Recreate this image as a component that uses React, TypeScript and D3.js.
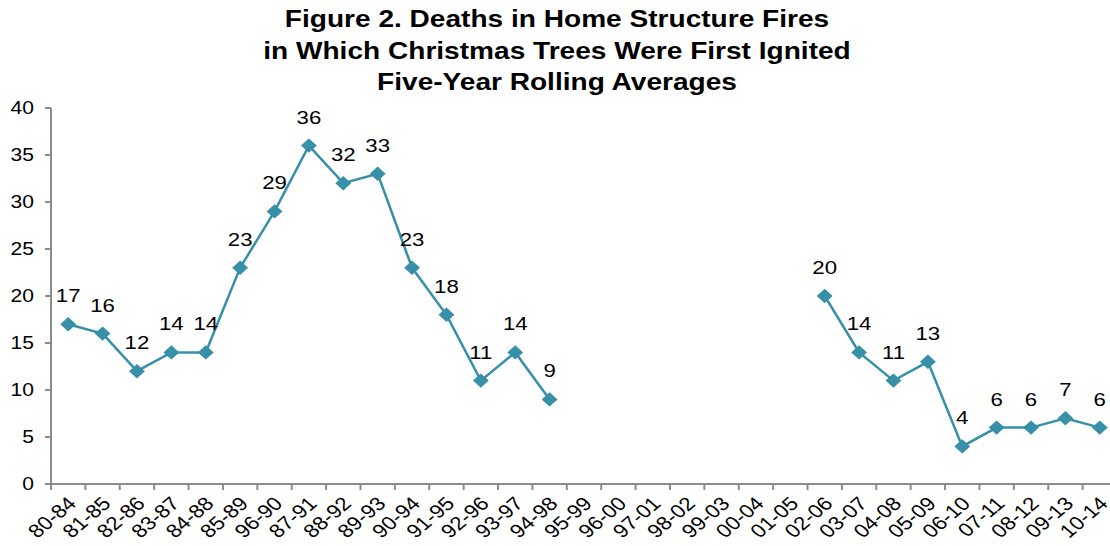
import React from "react";
import * as d3 from "d3";

const categories: string[] = [
  "80-84", "81-85", "82-86", "83-87", "84-88", "85-89", "96-90", "87-91",
  "88-92", "89-93", "90-94", "91-95", "92-96", "93-97", "94-98", "95-99",
  "96-00", "97-01", "98-02", "99-03", "00-04", "01-05", "02-06", "03-07",
  "04-08", "05-09", "06-10", "07-11", "08-12", "09-13", "10-14",
];

// Deaths per year, five-year rolling average (null = no estimate)
const deaths: (number | null)[] = [
  17, 16, 12, 14, 14, 23, 29, 36, 32, 33, 23, 18, 11, 14, 9,
  null, null, null, null, null, null, null,
  20, 14, 11, 13, 4, 6, 6, 7, 6,
];

const yTicks: number[] = [0, 5, 10, 15, 20, 25, 30, 35, 40];

const titleLines: string[] = [
  "Figure 2. Deaths in Home Structure Fires",
  "in Which Christmas Trees Were First Ignited",
  "Five-Year Rolling Averages",
];

const W = 1110;
const H = 546;
const M = { left: 51, top: 108, bottom: 484 };
const plotRight = 1117;

const LINE = "#3790a8";
const AXIS = "#8c8c8c";
const FONT = "'Liberation Sans', Arial, sans-serif";
// Text is set slightly wide throughout the figure
const SX = 1.17;

export default function App() {
  const x = d3.scaleBand<string>().domain(categories).range([M.left, plotRight]).padding(0);
  const y = d3.scaleLinear().domain([0, 40]).range([M.bottom, M.top]);
  const cx = (c: string) => (x(c) ?? 0) + x.bandwidth() / 2;

  const rows = categories.map((c, i) => ({ c, v: deaths[i] }));
  const line = d3
    .line<{ c: string; v: number | null }>()
    .defined((d) => d.v !== null)
    .x((d) => cx(d.c))
    .y((d) => y(d.v as number));
  const diamond = d3.symbol().type(d3.symbolSquare).size(104)();

  return (
    <div style={{ position: "absolute", left: 0, top: 0 }}>
      <svg width={W} height={H} style={{ display: "block", background: "#fff" }}>
        {titleLines.map((t, i) => (
          <text
            key={t}
            transform={`translate(557,${27 + i * 31.5}) scale(${SX},1)`}
            textAnchor="middle"
            fontFamily={FONT}
            fontWeight="bold"
            fontSize={24}
            fill="#000"
          >
            {t}
          </text>
        ))}

        {/* y axis */}
        <line x1={M.left} x2={M.left} y1={M.top} y2={M.bottom} stroke={AXIS} strokeWidth={2} />
        {yTicks.map((t) => (
          <g key={t}>
            <line x1={M.left - 6} x2={M.left} y1={y(t)} y2={y(t)} stroke={AXIS} strokeWidth={2} />
            <text
              transform={`translate(34,${y(t)}) scale(${SX},1)`}
              dy="0.36em"
              textAnchor="end"
              fontFamily={FONT}
              fontSize={18}
              fill="#000"
            >
              {t}
            </text>
          </g>
        ))}

        {/* x axis */}
        <line x1={M.left - 6} x2={W} y1={M.bottom} y2={M.bottom} stroke={AXIS} strokeWidth={2} />
        {categories.map((c) => (
          <line
            key={"t" + c}
            x1={x(c) ?? 0}
            x2={x(c) ?? 0}
            y1={M.bottom}
            y2={M.bottom + 6}
            stroke={AXIS}
            strokeWidth={2}
          />
        ))}
        {categories.map((c) => (
          <text
            key={"l" + c}
            transform={`translate(${cx(c) - 2},${M.bottom + 11}) scale(${SX},1) rotate(-45)`}
            textAnchor="end"
            dy="0.72em"
            fontFamily={FONT}
            fontSize={19}
            fill="#000"
          >
            {c}
          </text>
        ))}

        {/* series */}
        <path d={line(rows) ?? ""} fill="none" stroke={LINE} strokeWidth={2.5} />
        {rows
          .filter((d) => d.v !== null)
          .map((d) => (
            <g key={"p" + d.c}>
              <path
                d={diamond ?? ""}
                transform={`translate(${cx(d.c)},${y(d.v as number)}) scale(1.1,1) rotate(45)`}
                fill={LINE}
              />
              <text
                transform={`translate(${cx(d.c)},${y(d.v as number) - 22}) scale(${SX},1)`}
                textAnchor="middle"
                fontFamily={FONT}
                fontSize={19}
                fill="#000"
              >
                {d.v}
              </text>
            </g>
          ))}
      </svg>
    </div>
  );
}
